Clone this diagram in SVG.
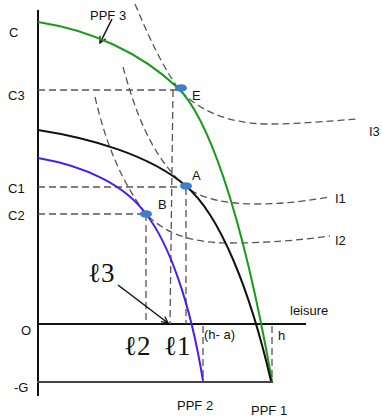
<svg xmlns="http://www.w3.org/2000/svg" width="382" height="418" viewBox="0 0 382 418">
<style>
.lbl{font-family:"Liberation Sans",Arial,sans-serif;font-size:13px;fill:#111}
.ell{font-family:"Liberation Serif","DejaVu Serif",serif;font-size:27px;fill:#111}
.dash{fill:none;stroke:#555;stroke-width:1.3;stroke-dasharray:7 4}
.axis{fill:none;stroke:#111;stroke-width:2}
.ppf{fill:none;stroke-width:2}
.pt{fill:#3d7fc8}
</style>
<defs>
<marker id="ah" viewBox="0 0 10 10" refX="9" refY="5" markerWidth="8" markerHeight="8" orient="auto" markerUnits="userSpaceOnUse">
<path d="M1,1 L9,5 L1,9" fill="none" stroke="#111" stroke-width="1.6"/>
</marker>
</defs>
<g id="axes">
<line class="axis" x1="38" y1="10" x2="38" y2="396"/>
<line class="axis" x1="37" y1="324" x2="306" y2="324"/>
<line x1="37" y1="382" x2="273" y2="382" stroke="#444" stroke-width="2"/>
</g>
<g id="connectors">
<path class="dash" d="M38,90 H178"/>
<path class="dash" d="M38,187 H186"/>
<path class="dash" d="M38,214 H146"/>
<path class="dash" d="M173,90 L170,324"/>
<path class="dash" d="M186,188 V324"/>
<path class="dash" d="M146,214 V324"/>
<path class="dash" d="M203,326 V381"/>
<path class="dash" d="M272,326 V381"/>
<path id="I3" class="dash" d="M135,4 C148,35 160,62 178,88 C195,108 225,124 270,124 C300,124 330,121 357,119"/>
<path id="I1" class="dash" d="M123,67 C135,110 150,155 186,187 C200,198 225,204 255,204 C290,204 310,200 330,197"/>
<path id="I2" class="dash" d="M95,97 C105,140 120,180 146,214 C165,233 190,243 230,243 C270,243 300,240 330,236"/>
<path d="M112,19 L100,43" fill="none" stroke="#111" stroke-width="1.5" marker-end="url(#ah)"/>
<path d="M118,285 L168,323" fill="none" stroke="#111" stroke-width="1.5" marker-end="url(#ah)"/>
</g>
<g id="ppf3"><path class="ppf" stroke="#1a9a1a" d="M38,22 C90,30 140,52 178,88 C205,114 240,200 272,381"/></g>
<g id="ppf1"><path class="ppf" stroke="#111" d="M38,130 C90,138 150,155 186,186 C220,215 250,290 271,381"/></g>
<g id="ppf2"><path class="ppf" stroke="#4a1ee8" d="M38,158 C85,166 125,185 146,214 C168,242 190,300 203,381"/></g>
<g id="pointE"><ellipse class="pt" cx="181" cy="88" rx="6" ry="3.8"/></g>
<g id="pointA"><ellipse class="pt" cx="186" cy="186" rx="6" ry="3.8"/></g>
<g id="pointB"><ellipse class="pt" cx="146" cy="214" rx="6" ry="3.8"/></g>
<g id="labels">
<text class="lbl" x="9" y="37" font-size="14">C</text>
<text class="lbl" x="8" y="100" font-size="14">C3</text>
<text class="lbl" x="8" y="193" font-size="14">C1</text>
<text class="lbl" x="8" y="220" font-size="14">C2</text>
<text class="lbl" x="21" y="335" font-size="14">O</text>
<text class="lbl" x="14" y="392" font-size="14">-G</text>
<text class="lbl" x="90" y="20">PPF 3</text>
<text class="lbl" x="192" y="100" font-size="14">E</text>
<text class="lbl" x="192" y="180" font-size="14">A</text>
<text class="lbl" x="158" y="209" font-size="14">B</text>
<text class="lbl" x="369" y="136" font-size="14">I3</text>
<text class="lbl" x="335" y="203" font-size="14">I1</text>
<text class="lbl" x="335" y="245" font-size="14">I2</text>
<text class="lbl" x="290" y="315" font-size="15">leisure</text>
<text class="lbl" x="204" y="339" font-size="13">(h- a)</text>
<text class="lbl" x="278" y="340" font-size="14">h</text>
<text class="lbl" x="177" y="410" font-size="12">PPF 2</text>
<text class="lbl" x="251" y="415" font-size="13">PPF 1</text>
<text class="ell" x="88" y="282">ℓ3</text>
<text class="ell" x="124" y="355">ℓ2</text>
<text class="ell" x="164" y="355">ℓ1</text>
</g>
</svg>
